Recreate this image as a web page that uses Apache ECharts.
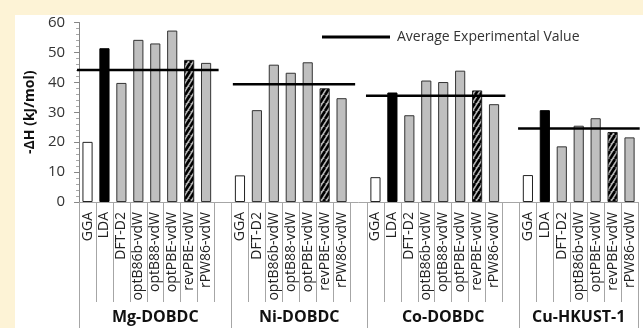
<!DOCTYPE html>
<html><head><meta charset="utf-8">
<script src="https://cdn.jsdelivr.net/npm/echarts@6/dist/echarts.min.js"></script>
<style>
html,body{margin:0;padding:0;width:643px;height:328px;background:#fdf3d6;overflow:hidden;}
#c{position:absolute;left:15px;top:15px;width:628px;height:313px;background:#ffffff;}
</style></head>
<body><div id="c"></div>
<script>
// ---- data ----
const groups = ['Mg-DOBDC', 'Ni-DOBDC', 'Co-DOBDC', 'Cu-HKUST-1'];
const methodsMg = ['GGA', 'LDA', 'DFT-D2', 'optB86b-vdW', 'optB88-vdW', 'optPBE-vdW', 'revPBE-vdW', 'rPW86-vdW'];
const methodsNi = ['GGA', 'DFT-D2', 'optB86b-vdW', 'optB88-vdW', 'optPBE-vdW', 'revPBE-vdW', 'rPW86-vdW'];
const methodsCo = ['GGA', 'LDA', 'DFT-D2', 'optB86b-vdW', 'optB88-vdW', 'optPBE-vdW', 'revPBE-vdW', 'rPW86-vdW'];
const methodsCu = ['GGA', 'LDA', 'DFT-D2', 'optB86b-vdW', 'optPBE-vdW', 'revPBE-vdW', 'rPW86-vdW'];
const valuesMg = [20.1, 51.4, 39.8, 54.2, 53.0, 57.3, 47.5, 46.5];
const valuesNi = [8.9, 30.7, 45.9, 43.2, 46.7, 38.0, 34.7];
const valuesCo = [8.3, 36.6, 29.0, 40.6, 40.1, 43.9, 37.3, 32.7];
const valuesCu = [9.0, 30.7, 18.6, 25.5, 28.0, 23.4, 21.6];
const avgExperimental = [44.1, 39.4, 35.5, 24.6];
// extent of each average line, in category-slot units
const avgStart = [-0.12, 9.08, 16.94, 25.92];
const avgEnd = [8.24, 16.30, 25.17, 33.1];
const yTicks = [0, 10, 20, 30, 40, 50, 60];
const legendName = 'Average Experimental Value';

// ---- build ----
const methodLists = [methodsMg, methodsNi, methodsCo, methodsCu];
const valueLists = [valuesMg, valuesNi, valuesCo, valuesCu];
const gapAfter = [true, true, true, false];

const pat = document.createElement('canvas');
pat.width = 5; pat.height = 8;
const px = pat.getContext('2d');
px.fillStyle = '#b5b5b5'; px.fillRect(0, 0, 5, 8);
px.strokeStyle = '#000'; px.lineWidth = 2.6;
for (const dx of [-5, 0, 5]) { px.beginPath(); px.moveTo(dx, 8); px.lineTo(dx + 5, 0); px.stroke(); }

function styleFor(m) {
  if (m === 'GGA') return { color: '#ffffff', borderColor: '#222', borderWidth: 1 };
  if (m === 'LDA') return { color: '#000000', borderColor: '#000', borderWidth: 1 };
  if (m === 'revPBE-vdW') return { color: { image: pat, repeat: 'repeat' }, borderColor: '#222', borderWidth: 1 };
  return { color: '#bfbfbf', borderColor: '#333', borderWidth: 1 };
}

const cats = [], barData = [], bounds = [0], centers = [];
methodLists.forEach((ms, g) => {
  const start = cats.length;
  ms.forEach((m, i) => { cats.push(m); barData.push({ value: valueLists[g][i], itemStyle: styleFor(m) }); });
  if (gapAfter[g]) { cats.push(''); barData.push('-'); }
  bounds.push(cats.length);
  centers.push((start + cats.length) / 2);
});
const total = cats.length;

const font = '"Open Sans", "Noto Sans", sans-serif';
const lineSeries = avgExperimental.map((v, g) => ({
  name: legendName, type: 'line', xAxisIndex: 1, yAxisIndex: 0,
  data: [[avgStart[g], v], [avgEnd[g], v]],
  symbol: 'none', clip: false, z: 5,
  lineStyle: { color: '#000', width: 2.5 }, itemStyle: { color: '#000' }
}));

const chart = echarts.init(document.getElementById('c'), null, { renderer: 'canvas' });
chart.setOption({
  animation: false,
  backgroundColor: '#ffffff',
  textStyle: { fontFamily: font },
  grid: { left: 50, right: 5, top: 5, bottom: 126, containLabel: false },
  legend: {
    data: [{ name: legendName, icon: 'rect' }],
    left: 302, top: 10, itemWidth: 68, itemHeight: 3, itemGap: 0,
    textStyle: { fontSize: 14, color: '#333', fontFamily: font, padding: [0, 0, 0, 2] }
  },
  xAxis: [
    {
      type: 'category', data: cats, position: 'bottom', boundaryGap: true,
      axisLine: { show: true, lineStyle: { color: '#a6a6a6', width: 1 } },
      axisTick: { show: true, interval: 0, length: 100, alignWithLabel: false, lineStyle: { color: '#a6a6a6' } },
      axisLabel: { interval: 0, rotate: 90, margin: 10, fontSize: 14, color: '#222', fontFamily: font },
      splitLine: { show: false }
    },
    {
      type: 'value', min: 0, max: total, position: 'bottom',
      axisLine: { show: false },
      axisTick: { show: true, customValues: bounds, length: 127, lineStyle: { color: '#a6a6a6' } },
      axisLabel: {
        show: true, customValues: centers, margin: 107, fontSize: 16, fontWeight: 'bold', color: '#111', fontFamily: font,
        formatter: (v) => { const i = centers.indexOf(v); return i >= 0 ? groups[i] : ''; }
      },
      splitLine: { show: false }
    }
  ],
  yAxis: {
    type: 'value', min: yTicks[0], max: yTicks[yTicks.length - 1], interval: yTicks[1] - yTicks[0],
    name: '-ΔH (kJ/mol)', nameLocation: 'middle', nameGap: 38, nameRotate: 90,
    nameTextStyle: { fontSize: 14, fontWeight: 'bold', color: '#111', fontFamily: font },
    axisLine: { show: true, lineStyle: { color: '#868686' } },
    axisTick: { show: true, inside: false, length: 5, lineStyle: { color: '#868686' } },
    minorTick: { show: true, splitNumber: 5, length: 3, lineStyle: { color: '#a6a6a6' } },
    axisLabel: { fontSize: 15, color: '#333', margin: 14, fontFamily: font },
    splitLine: { show: false }
  },
  series: [
    { name: 'bars', type: 'bar', xAxisIndex: 0, yAxisIndex: 0, data: barData, barWidth: '60%' }
  ].concat(lineSeries)
});
</script></body></html>
